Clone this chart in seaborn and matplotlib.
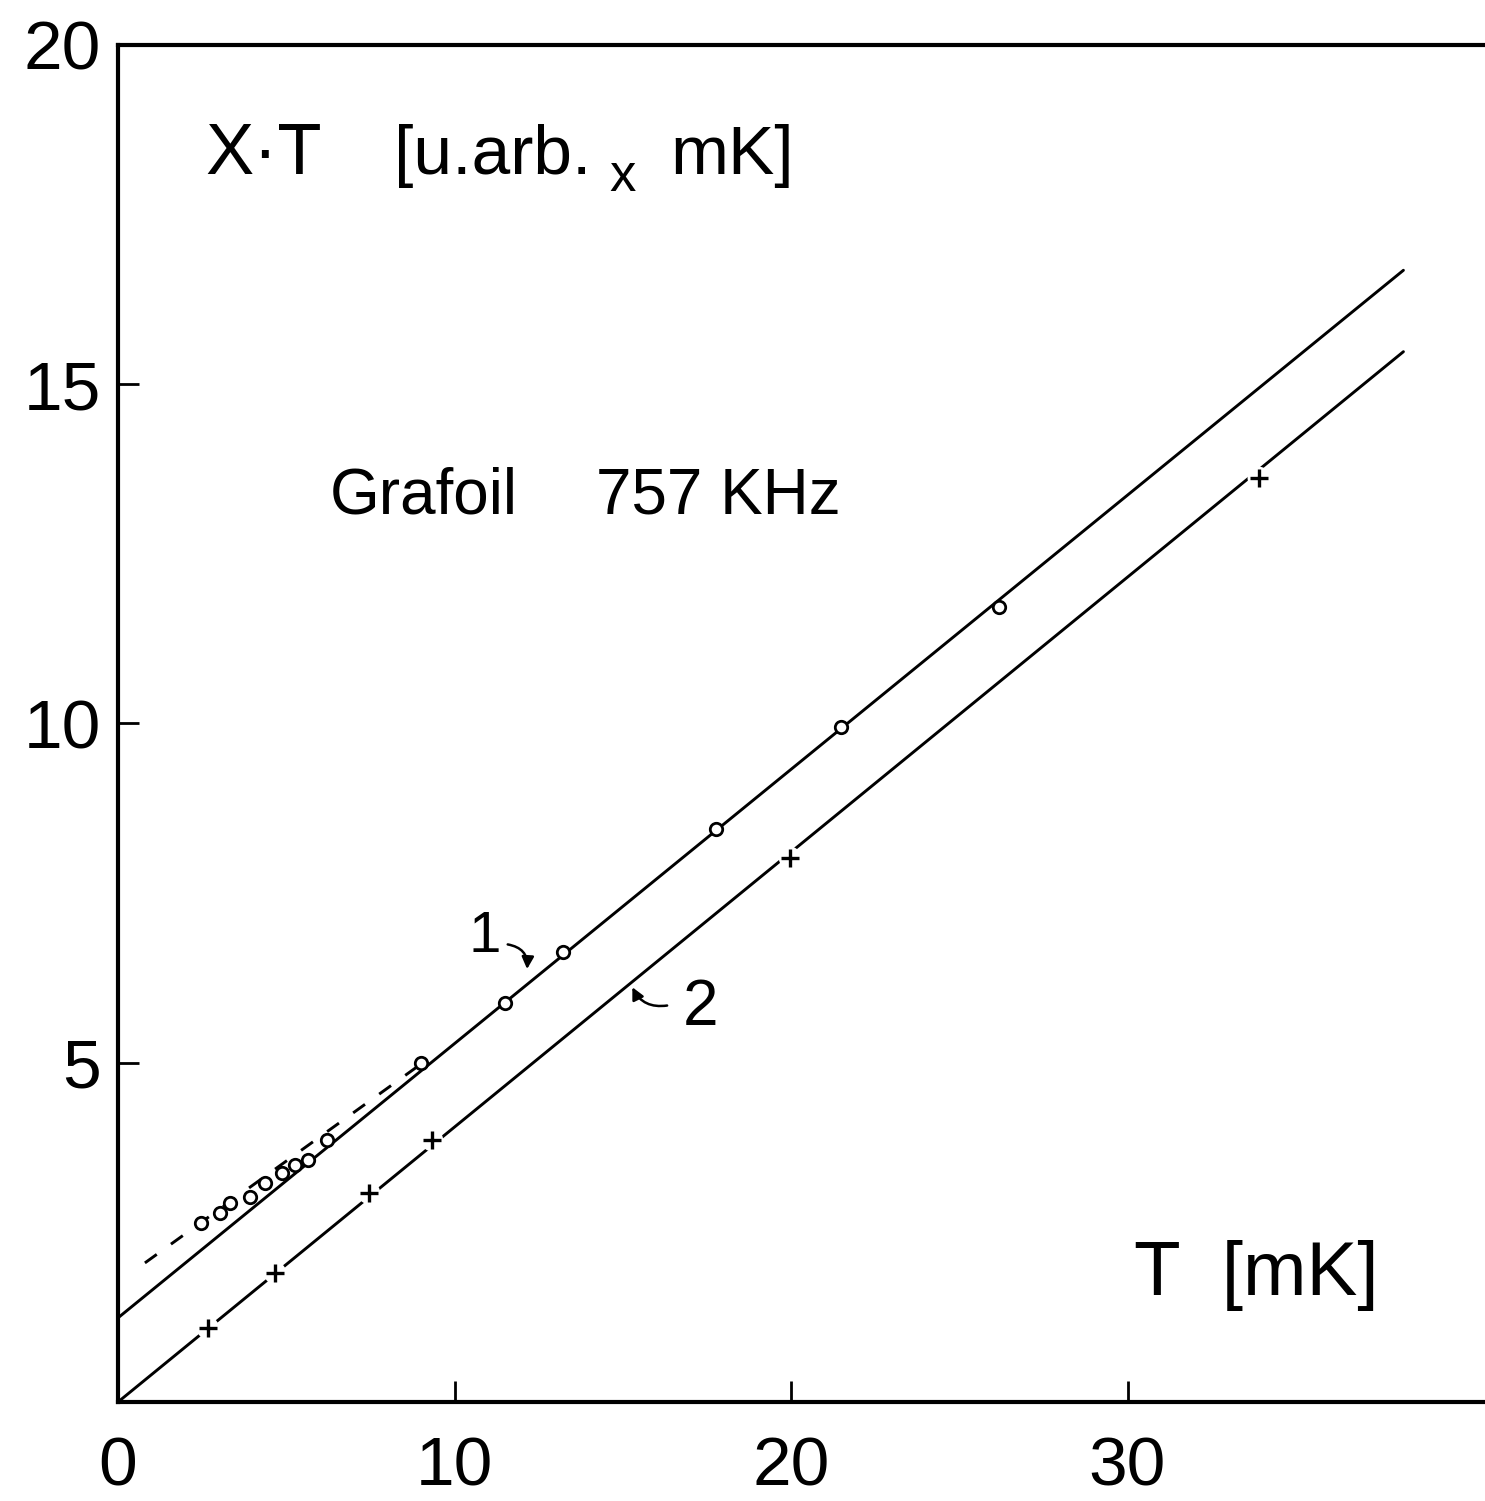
import matplotlib
matplotlib.use("Agg")
import matplotlib.pyplot as plt
import seaborn as sns
import pandas as pd

# ---- data ----
T_circ = [2.48, 3.03, 3.33, 3.92, 4.37, 4.87, 5.26, 5.65, 6.21, 9.0, 11.5, 13.22, 17.77, 21.49, 26.18]
XT_circ = [2.64, 2.79, 2.93, 3.02, 3.23, 3.38, 3.49, 3.57, 3.86, 5.0, 5.88, 6.63, 8.45, 9.95, 11.72]

T_cross = [2.67, 4.67, 7.46, 9.33, 19.97, 33.9]
XT_cross = [1.09, 1.90, 3.08, 3.86, 8.02, 13.62]

fit1_T = [0.0, 38.2]
fit1_XT = [1.24, 16.68]
fit2_T = [0.0, 38.2]
fit2_XT = [0.0, 15.48]
dash_T = [0.8, 9.0]
dash_XT = [2.05, 4.98]

x_ticks = [0, 10, 20, 30]
y_ticks = [5, 10, 15, 20]

sns.set_theme(style="white")
plt.rcParams['font.family'] = ['Liberation Sans', 'DejaVu Sans']

W, H = 1485, 1501
fig = plt.figure(figsize=(W / 100, H / 100), dpi=100)
x0, xr = 118, 1485
yb, yt = 1402, 45
ax = fig.add_axes([x0 / W, (H - yb) / H, (xr - x0) / W, (yb - yt) / H])

ax.set_xlim(0, (xr - x0) / 33.65)
ax.set_ylim(0, 20)

lw = 2.1
sns.lineplot(x=fit1_T, y=fit1_XT, ax=ax, color='black', lw=lw, sort=False)
sns.lineplot(x=fit2_T, y=fit2_XT, ax=ax, color='black', lw=lw, sort=False)
sns.lineplot(x=dash_T, y=dash_XT, ax=ax, color='black', lw=lw, sort=False,
             linestyle=(0, (5, 6)))

# gaps in line 2 around crosses
sns.scatterplot(x=T_cross, y=XT_cross, ax=ax, marker='o', s=260, color='white',
                edgecolor='none', zorder=3)
sns.scatterplot(x=T_cross, y=XT_cross, ax=ax, marker='+', s=150, color='black',
                linewidth=2.4, zorder=4)
sns.scatterplot(x=T_circ, y=XT_circ, ax=ax, marker='o', s=80, facecolor='white',
                edgecolor='black', linewidth=2.0, zorder=4)

# spines and ticks
for side in ['left', 'bottom', 'top']:
    ax.spines[side].set_visible(True)
    ax.spines[side].set_color('black')
    ax.spines[side].set_linewidth(3)
ax.spines['right'].set_visible(False)

ax.set_xticks(x_ticks)
ax.set_yticks(y_ticks)
ax.set_xticklabels([str(v) for v in x_ticks])
ax.set_yticklabels([str(v) for v in y_ticks])
ax.tick_params(axis='x', direction='in', length=15, width=2, pad=24,
               labelsize=50, colors='black', bottom=True, top=False)
ax.tick_params(axis='y', direction='in', length=15, width=2, pad=12,
               labelsize=50, colors='black', left=True, right=False)
ax.set_xlabel('')
ax.set_ylabel('')

# texts
ax.text(2.6, 18.1, 'X·T', fontsize=52, ha='left', va='baseline', color='black')
ax.text(8.2, 18.1, '[u.arb.', fontsize=50, ha='left', va='baseline', color='black')
ax.text(14.6, 17.85, 'x', fontsize=38, ha='left', va='baseline', color='black')
ax.text(16.4, 18.1, 'mK]', fontsize=50, ha='left', va='baseline', color='black')
ax.text(6.3, 13.1, 'Grafoil', fontsize=46, ha='left', va='baseline', color='black')
ax.text(14.2, 13.1, '757 KHz', fontsize=46, ha='left', va='baseline', color='black')
ax.text(30.2, 1.58, 'T  [mK]', fontsize=55, ha='left', va='baseline', color='black')

ax.text(10.9, 6.85, '1', fontsize=42, ha='center', va='center', color='black')
ax.annotate('', xy=(12.15, 6.34), xytext=(11.5, 6.75),
            arrowprops=dict(arrowstyle='-|>', color='black', lw=1.8,
                            connectionstyle='arc3,rad=-0.5', mutation_scale=18))
ax.text(17.3, 5.81, '2', fontsize=46, ha='center', va='center', color='black')
ax.annotate('', xy=(15.25, 6.15), xytext=(16.4, 5.85),
            arrowprops=dict(arrowstyle='-|>', color='black', lw=1.8,
                            connectionstyle='arc3,rad=-0.4', mutation_scale=18))

fig.savefig('out.png', dpi=100, facecolor='white')
